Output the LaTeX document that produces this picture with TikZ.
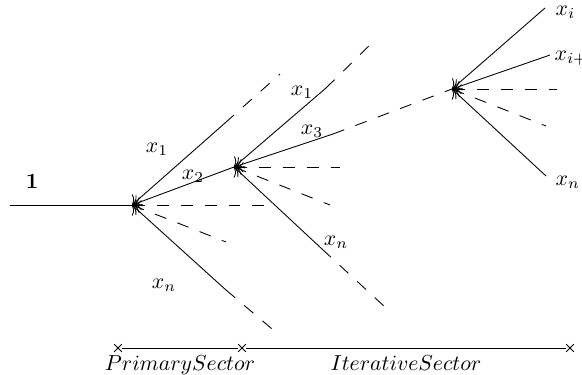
\documentclass[tikz,border=0pt]{standalone}
\usetikzlibrary{shapes.misc,arrows.meta}
\begin{document}
\begin{tikzpicture}[x=0.46pt,y=-0.46pt,
  branch/.style={{To[scale=1.4]}-},
  ext/.style={dash pattern=on 5.5pt off 5.5pt},
  tick/.style={cross out,draw,inner sep=0pt,minimum size=3.2pt},
  lbl/.style={inner sep=1pt}]
\useasboundingbox (0,0) rectangle (582,374);
% hubs
\coordinate (start) at (10,205);
\coordinate (hubA) at (132,205);
\coordinate (hubB) at (234,167);
\coordinate (hubC) at (452,89);
\draw (start) -- (hubA);
\node[lbl] (one) at (32,181) {$\mathbf{1}$};
% first level
\coordinate (a1) at (225,123);
\coordinate (a1e) at (280,74);
\coordinate (ah) at (265,205);
\coordinate (ad) at (226,242);
\coordinate (an) at (226,290);
\coordinate (ane) at (278,334);
\draw[branch] (hubA) -- (a1);
\draw[ext] (a1) -- (a1e);
\draw[branch] (hubA) -- (hubB);
\draw[branch,ext] (hubA) -- (ah);
\draw[branch,ext] (hubA) -- (ad);
\draw[branch] (hubA) -- (an);
\draw[ext] (an) -- (ane);
\node[lbl] (ax1) at (157,149) {$x_1$};
\node[lbl] (ax2) at (193,176) {$x_2$};
\node[lbl] (axn) at (164,285) {$x_n$};
% second level
\coordinate (b1) at (326,88);
\coordinate (b1e) at (375,40);
\coordinate (b3) at (333,134);
\coordinate (bh) at (340,167);
\coordinate (bd) at (330,205);
\coordinate (bn) at (322,249);
\coordinate (bne) at (385,307);
\draw[branch] (hubB) -- (b1);
\draw[ext] (b1) -- (b1e);
\draw[branch] (hubB) -- (b3);
\draw[ext] (b3) -- (hubC);
\draw[branch,ext] (hubB) -- (bh);
\draw[branch,ext] (hubB) -- (bd);
\draw[branch] (hubB) -- (bn);
\draw[ext] (bn) -- (bne);
\node[lbl] (bx1) at (302,92) {$x_1$};
\node[lbl] (bx3) at (312,131) {$x_3$};
\node[lbl] (bxn) at (336,242) {$x_n$};
% last level
\coordinate (ci) at (545,8);
\coordinate (cj) at (550,55);
\coordinate (ch) at (557,89);
\coordinate (cd) at (546,126);
\coordinate (cn) at (546,176);
\draw[branch] (hubC) -- (ci);
\draw[branch] (hubC) -- (cj);
\draw[branch,ext] (hubC) -- (ch);
\draw[branch,ext] (hubC) -- (cd);
\draw[branch] (hubC) -- (cn);
\node[lbl,anchor=west] (cxi) at (553,12) {$x_i$};
\node[lbl,anchor=west] (cxj) at (552,58) {$x_{i+1}$};
\node[lbl,anchor=west] (cxn) at (553,182) {$x_n$};
% sectors
\node[tick] (s0) at (118,348) {};
\node[tick] (s1) at (242,348) {};
\node[tick] (s2) at (570,348) {};
\draw (s0) -- (s1) -- (s2);
\path (s0) -- (s1) node[midway,below=0pt] (prim) {$Primary Sector$};
\path (s1) -- (s2) node[midway,below=0pt] (iter) {$Iterative Sector$};
\end{tikzpicture}
\end{document}
